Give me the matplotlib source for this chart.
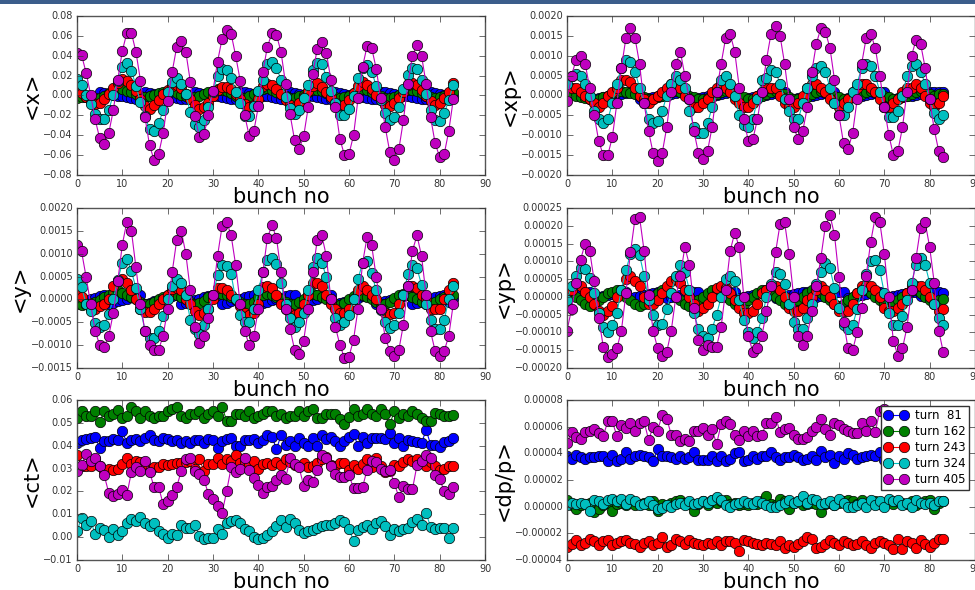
import numpy as np
import matplotlib
matplotlib.use('Agg')
import matplotlib.pyplot as plt
from matplotlib.patches import Rectangle

plt.style.use('classic')
plt.rcParams['font.family'] = ['DejaVu Sans']
plt.rcParams['axes.formatter.limits'] = [-7, 7]
plt.rcParams['axes.formatter.useoffset'] = False

bunch = np.arange(84)
turn_labels = ['turn  81', 'turn 162', 'turn 243', 'turn 324', 'turn 405']
colors = ['b', 'g', 'r', 'c', 'm']

# ---------------- <x> ----------------
x_b = [0.001, 0.000, -0.001, -0.002, -0.003, 0.004, 0.003, 0.002, 0.001, 0.000,
       -0.001, -0.002, -0.003, -0.004, -0.003, 0.004, 0.003, 0.002, 0.001, 0.000,
       -0.001, -0.002, -0.003, -0.004, -0.004, -0.003, 0.004, 0.003, 0.002, 0.001,
       0.000, -0.001, -0.002, -0.003, -0.004, -0.004, 0.004, 0.004, 0.003, 0.002,
       0.001, 0.000, -0.001, -0.002, -0.003, -0.004, -0.004, 0.004, 0.003, 0.002,
       0.001, 0.000, -0.001, -0.002, -0.003, -0.004, -0.004, 0.004, 0.003, 0.002,
       0.001, 0.000, -0.001, -0.002, -0.003, -0.004, -0.004, 0.004, 0.004, 0.003,
       0.002, 0.001, 0.000, -0.001, -0.002, -0.003, -0.004, -0.004, 0.004, 0.003,
       0.002, 0.001, 0.000, -0.001]
x_g = [-0.003, -0.002, -0.002, -0.003, -0.003, -0.003, 0.000, 0.003, 0.006, 0.008,
       0.007, 0.005, 0.004, 0.002, -0.001, -0.002, -0.001, 0.001, 0.003, 0.004,
       0.005, 0.006, 0.003, 0.001, -0.001, -0.002, -0.002, 0.000, 0.002, 0.004,
       0.005, 0.007, 0.006, 0.005, 0.003, 0.000, -0.002, -0.003, -0.001, 0.002,
       0.004, 0.007, 0.008, 0.006, 0.004, 0.002, -0.001, -0.003, -0.003, -0.001,
       0.001, 0.004, 0.006, 0.006, 0.005, 0.003, 0.000, -0.002, -0.003, -0.002,
       0.000, 0.003, 0.006, 0.007, 0.006, 0.004, 0.002, -0.001, -0.003, -0.003,
       -0.002, 0.001, 0.004, 0.006, 0.006, 0.005, 0.003, 0.000, -0.002, -0.003,
       -0.002, 0.000, 0.003, 0.004]
x_r = [0.005, 0.003, -0.002, -0.006, -0.009, -0.008, -0.004, 0.002, 0.008, 0.013,
       0.017, 0.015, 0.011, 0.005, -0.004, -0.011, -0.014, -0.010, -0.005, 0.002,
       0.006, 0.010, 0.011, 0.008, 0.002, -0.004, -0.010, -0.014, -0.012, -0.008,
       0.000, 0.006, 0.009, 0.009, 0.007, 0.002, -0.004, -0.009, -0.012, -0.010,
       -0.004, 0.010, 0.012, 0.011, 0.007, 0.002, -0.005, -0.010, -0.012, -0.008,
       -0.002, 0.005, 0.010, 0.013, 0.009, 0.004, -0.002, -0.008, -0.011, -0.010,
       -0.005, 0.003, 0.010, 0.014, 0.011, 0.007, 0.001, -0.005, -0.010, -0.011,
       -0.008, -0.003, 0.004, 0.011, 0.013, 0.011, 0.006, -0.001, -0.006, -0.010,
       -0.008, -0.003, 0.004, 0.013]
x_c = [0.017, 0.011, 0.001, -0.009, -0.019, -0.024, -0.024, -0.015, 0.001, 0.015,
       0.029, 0.033, 0.025, 0.010, -0.007, -0.021, -0.034, -0.036, -0.028, -0.015,
       0.004, 0.014, 0.018, 0.012, 0.002, -0.017, -0.029, -0.032, -0.025, -0.012,
       0.004, 0.020, 0.027, 0.026, 0.018, 0.004, -0.008, -0.021, -0.021, -0.011,
       0.005, 0.016, 0.032, 0.034, 0.028, 0.016, -0.002, -0.013, -0.019, -0.015,
       -0.003, 0.011, 0.026, 0.033, 0.032, 0.019, 0.005, -0.008, -0.020, -0.020,
       -0.014, 0.000, 0.018, 0.028, 0.031, 0.024, 0.010, -0.005, -0.018, -0.025,
       -0.022, -0.012, 0.007, 0.021, 0.028, 0.027, 0.016, 0.002, -0.015, -0.025,
       -0.026, -0.018, -0.005, 0.011]
x_m = [0.043, 0.041, 0.023, 0.001, -0.024, -0.043, -0.049, -0.038, -0.015, 0.016,
       0.045, 0.063, 0.063, 0.044, 0.015, -0.022, -0.050, -0.065, -0.059, -0.038,
       -0.006, 0.024, 0.049, 0.055, 0.044, 0.014, -0.021, -0.042, -0.039, -0.020,
       0.005, 0.034, 0.057, 0.066, 0.062, 0.040, 0.015, -0.020, -0.041, -0.036,
       -0.011, 0.024, 0.049, 0.063, 0.061, 0.044, 0.012, -0.019, -0.045, -0.054,
       -0.041, -0.012, 0.022, 0.047, 0.054, 0.043, 0.016, -0.012, -0.044, -0.060,
       -0.059, -0.040, -0.003, 0.029, 0.050, 0.048, 0.027, -0.003, -0.032, -0.057,
       -0.065, -0.054, -0.025, 0.012, 0.040, 0.051, 0.040, 0.012, -0.022, -0.048,
       -0.062, -0.059, -0.036, -0.004]

# ---------------- <xp> ----------------
xp_b = [0.00002, 0.00004, 0.00006, 0.00008, 0.0001, -0.0001, -0.00008, -0.00006, -0.00004, -0.00002,
        0.0, 0.00002, 0.00004, 0.00006, 0.00008, 0.0001, -0.0001, -0.00008, -0.00006, -0.00004,
        -0.00002, 0.0, 0.00002, 0.00004, 0.00006, 0.00008, 0.0001, -0.0001, -0.00008, -0.00006,
        -0.00004, -0.00002, 0.0, 0.00002, 0.00004, 0.00006, 0.00008, 0.0001, -0.0001, -0.00008,
        -0.00006, -0.00004, -0.00002, 0.0, 0.00002, 0.00004, 0.00006, 0.00008, 0.0001, -0.0001,
        -0.00008, -0.00006, -0.00004, -0.00002, 0.0, 0.00002, 0.00004, 0.00006, 0.00008, 0.0001,
        -0.0001, -0.00008, -0.00006, -0.00004, -0.00002, 0.0, 0.00002, 0.00004, 0.00006, 0.00008,
        0.0001, -0.0001, -0.00008, -0.00006, -0.00004, -0.00002, 0.0, 0.00002, 0.00004, 0.00006,
        0.00008, 0.0001, 0.00008, 0.0001]
xp_g = [0.0001, 0.00005, 0.0, -0.00003, -0.00007, -0.0001, -0.00013, -0.0001, -0.00005, 0.0,
        0.00005, 0.0001, 0.00012, 0.0001, 0.00007, 0.00003, 0.0, -0.00005, -0.0001, -0.0001,
        -0.00005, 0.0, 0.00005, 0.0001, 0.00012, 0.0001, 0.00005, 0.0, -0.00005, -0.0001,
        -0.0001, -0.00007, -0.00003, 0.00003, 0.00008, 0.00012, 0.0001, 0.00005, 0.0, -0.00005,
        -0.0001, -0.0001, -0.00005, 0.0, 0.00005, 0.0001, 0.00012, 0.00008, 0.00003, -0.00003,
        -0.00008, -0.0001, -0.00008, -0.00003, 0.00003, 0.00008, 0.00012, 0.0001, 0.00005, 0.0,
        -0.00005, -0.0001, -0.0001, -0.00005, 0.0, 0.00005, 0.0001, 0.00012, 0.0001, 0.00005,
        0.0, -0.00005, -0.0001, -0.0001, -0.00005, 0.0, 0.00005, 0.0001, 0.00012, 0.0001,
        0.00005, 0.0, 0.00003, 0.00005]
xp_r = [0.00025, 0.0002, 0.0002, 0.0001, 0.0, -0.0001, -0.0002, -0.0003, -0.0002, 0.0,
        0.0001, 0.0002, 0.0004, 0.0004, 0.00035, 0.0002, 0.0, -0.0001, -0.0002, -0.0001,
        0.0, 0.0001, 0.0002, 0.0003, 0.0003, 0.0002, 0.0, -0.0001, -0.0003, -0.0003,
        -0.0002, -0.0001, 0.0001, 0.0002, 0.0003, 0.0002, 0.0001, -0.0001, -0.0002, -0.0003,
        -0.0003, -0.0002, 0.0, 0.0001, 0.0002, 0.0002, 0.0002, 0.0, -0.0002, -0.0003,
        -0.0003, -0.0002, 0.0, 0.0002, 0.0003, 0.0003, 0.0002, 0.0001, -0.0001, -0.0002,
        -0.0003, -0.0002, -0.0001, 0.0001, 0.0002, 0.0003, 0.0003, 0.0002, 0.0001, -0.0001,
        -0.0003, -0.0003, -0.0002, -0.0001, 0.0001, 0.0002, 0.0002, 0.0003, 0.0002, 0.0,
        -0.0002, -0.0003, -0.0002, 0.0]
xp_c = [0.0003, 0.0005, 0.00055, 0.0005, 0.0003, 0.0, -0.0004, -0.0006, -0.0007, -0.0006,
        -0.0002, 0.0003, 0.0007, 0.0009, 0.00085, 0.0006, 0.0002, -0.0002, -0.0006, -0.0007,
        -0.00065, -0.0004, 0.0, 0.0003, 0.0005, 0.0004, 0.0002, -0.0004, -0.0008, -0.00095,
        -0.00095, -0.0007, -0.0003, 0.0001, 0.0004, 0.0005, 0.0003, 0.0, -0.0005, -0.00075,
        -0.0008, -0.0006, -0.0001, 0.0004, 0.00045, 0.00065, 0.0006, 0.0003, -0.0001, -0.0004,
        -0.0006, -0.0006, -0.0002, 0.0002, 0.0005, 0.0007, 0.00075, 0.0006, 0.0002, -0.0002,
        -0.0005, -0.0005, -0.0003, 0.0001, 0.0003, 0.0007, 0.0008, 0.00075, 0.0005, 0.0001,
        -0.0003, -0.00055, -0.00055, -0.0004, 0.0, 0.0005, 0.00075, 0.0008, 0.0006, 0.0003,
        -0.0001, -0.00045, -0.0006, -0.0005]
xp_m = [-0.00015, 0.0005, 0.0009, 0.0010, 0.0008, 0.0002, -0.0005, -0.00115, -0.0015, -0.0015,
        -0.00105, -0.0002, 0.0007, 0.00145, 0.0017, 0.00145, 0.0008, -0.0002, -0.0009, -0.00145,
        -0.00165, -0.00145, -0.0008, 0.0001, 0.0008, 0.0011, 0.0005, -0.0001, -0.0009, -0.00145,
        -0.0016, -0.0014, -0.0008, 0.0001, 0.0008, 0.00145, 0.00155, 0.0011, 0.0002, -0.0006,
        -0.00115, -0.0011, -0.0006, 0.0001, 0.0009, 0.00155, 0.00175, 0.0015, 0.0008, -0.0001,
        -0.0008, -0.0011, -0.0009, -0.0003, 0.0006, 0.0013, 0.0017, 0.0016, 0.0012, 0.0004,
        -0.0005, -0.0012, -0.00135, -0.00095, -0.0001, 0.0008, 0.00145, 0.00155, 0.0012, 0.0005,
        -0.0003, -0.0010, -0.0015, -0.0014, -0.0008, 0.0001, 0.0010, 0.0014, 0.0013, 0.0007,
        -0.0001, -0.00085, -0.0014, -0.00155]

# ---------------- <y> ----------------
y_b = [-0.00008, -0.00005, -0.00002, 0.00001, 0.00004, 0.00007, 0.0001, -0.0001, -0.00007, -0.00004,
       -0.00001, 0.00002, 0.00005, 0.00008, 0.0001, -0.0001, -0.00007, -0.00004, -0.00001, 0.00002,
       0.00005, 0.00008, 0.0001, -0.0001, -0.00007, -0.00004, -0.00001, 0.00002, 0.00005, 0.00008,
       0.0001, 0.0001, -0.0001, -0.00007, -0.00004, -0.00001, 0.00002, 0.00005, 0.00008, 0.0001,
       -0.0001, -0.00008, -0.00005, -0.00002, 0.00001, 0.00004, 0.00007, 0.0001, 0.0001, -0.0001,
       -0.00007, -0.00004, -0.00001, 0.00002, 0.00005, 0.00008, 0.0001, -0.0001, -0.00008, -0.00005,
       -0.00002, 0.00001, 0.00004, 0.00007, 0.0001, 0.0001, -0.0001, -0.00007, -0.00004, -0.00001,
       0.00002, 0.00005, 0.00008, 0.0001, -0.0001, -0.00007, -0.00004, -0.00001, 0.00002, 0.00005,
       0.00008, 0.0001, -0.00005, 0.0]
y_g = [-0.0001, -0.00012, -0.0001, -0.00008, -0.00005, -0.00002, 0.00005, 0.0001, 0.00015, 0.0002,
       0.00015, 0.0001, 0.00005, 0.0, -0.00005, -0.0001, -0.0001, -0.00005, 0.0, 0.00005,
       0.0001, 0.00012, 0.0001, 0.00005, 0.0, -0.00005, -0.0001, -0.00008, -0.00003, 0.00005,
       0.0001, 0.00015, 0.00012, 0.0001, 0.00005, 0.0, -0.00005, -0.0001, -0.0001, -0.00005,
       0.00005, 0.0001, 0.00012, 0.0001, 0.00005, 0.0, -0.00005, -0.0001, -0.0001, -0.00005,
       0.0, 0.0001, 0.00012, 0.0001, 0.00005, 0.0, -0.00005, -0.0001, -0.00012, -0.00008,
       0.0, 0.00008, 0.00012, 0.0001, 0.00005, 0.0, -0.00005, -0.0001, -0.0001, -0.00005,
       0.00003, 0.0001, 0.00012, 0.0001, 0.00005, 0.0, -0.00005, -0.0001, -0.0001, -0.00005,
       0.0, 0.00005, 0.0001, 0.0001]
y_r = [0.00012, 0.00005, -0.0001, -0.0002, -0.00022, -0.00015, -0.0001, 0.0, 0.0003, 0.0004,
       0.00045, 0.00035, 0.0002, 0.0, -0.0002, -0.00028, -0.00028, -0.0002, -0.0001, 0.0,
       0.0001, 0.00022, 0.00025, 0.0002, 0.0, -0.0001, -0.00025, -0.00035, -0.0003, -0.0002,
       0.0, 0.00025, 0.00025, 0.0002, 0.0001, 0.0, -0.00015, -0.0003, -0.00035, -0.0003,
       -0.0001, 0.00028, 0.0003, 0.00025, 0.0001, -0.0001, -0.0002, -0.0003, -0.00035, -0.0003,
       -0.0001, 0.0001, 0.00035, 0.00035, 0.0003, 0.0001, -0.0001, -0.0002, -0.0003, -0.0003,
       -0.0002, 0.0, 0.0002, 0.0003, 0.0002, 0.0001, 0.0, -0.0002, -0.0003, -0.00032,
       -0.0003, -0.0001, 0.0001, 0.0003, 0.0003, 0.00025, 0.0001, 0.0, -0.0002, -0.00022,
       -0.0002, 0.0, 0.0002, 0.00035]
y_c = [0.00045, 0.00028, -0.0001, -0.00025, -0.00052, -0.0006, -0.00055, -0.00032, 0.0, 0.00043,
       0.0008, 0.00088, 0.00062, 0.00025, -0.0002, -0.00068, -0.00085, -0.00085, -0.00068, -0.00037,
       0.0, 0.0003, 0.00045, 0.00035, 0.0001, -0.00045, -0.00065, -0.00075, -0.00055, -0.0002,
       0.0001, 0.00053, 0.00075, 0.00073, 0.00055, 0.0, -0.00035, -0.0005, -0.0005, -0.0002,
       0.0002, 0.0006, 0.00087, 0.0009, 0.00077, 0.00035, -0.0001, -0.0004, -0.0006, -0.0005,
       -0.0003, 0.0002, 0.0007, 0.0009, 0.0008, 0.0005, 0.0, -0.0004, -0.00055, -0.0005,
       -0.00035, 0.0, 0.00045, 0.0008, 0.00083, 0.00057, 0.0002, -0.00023, -0.0005, -0.00062,
       -0.00055, -0.0003, 0.0001, 0.00055, 0.00075, 0.00068, 0.00032, -0.0001, -0.00045, -0.00065,
       -0.00065, -0.00045, 0.0, 0.0003]
y_m = [0.0012, 0.00105, 0.0005, -0.0001, -0.00068, -0.0010, -0.00103, -0.0008, -0.0003, 0.0004,
       0.0012, 0.0017, 0.0015, 0.0007, -0.0001, -0.0007, -0.0010, -0.0011, -0.0011, -0.0008,
       -0.0002, 0.0006, 0.0013, 0.0015, 0.0010, 0.0002, -0.0006, -0.00095, -0.0008, -0.0004,
       0.0001, 0.00095, 0.0016, 0.0017, 0.0014, 0.00075, -0.0001, -0.0007, -0.0010, -0.0008,
       -0.0002, 0.0006, 0.00135, 0.00162, 0.00135, 0.0006, -0.0002, -0.00065, -0.0011, -0.0012,
       -0.0009, -0.00022, 0.0006, 0.0013, 0.0014, 0.00095, 0.0, -0.0006, -0.0010, -0.00128,
       -0.00125, -0.00088, -0.0002, 0.0008, 0.00137, 0.00118, 0.0005, -0.0002, -0.00085, -0.00112,
       -0.00123, -0.0011, -0.00055, 0.0003, 0.00107, 0.0014, 0.00095, 0.0001, -0.0007, -0.00113,
       -0.00123, -0.00113, -0.0008, -0.0001]

# ---------------- <yp> ----------------
yp_b = [0.0, 0.000003, 0.000006, 0.000009, 0.000012, 0.000014, -0.000004, -0.000001, 0.000002, 0.000005,
        0.000008, 0.000011, 0.000014, 0.000015, -0.000003, 0.0, 0.000003, 0.000006, 0.000009, 0.000012,
        0.000014, 0.000015, -0.000003, 0.0, 0.000003, 0.000006, 0.000009, 0.000012, 0.000014, 0.000015,
        -0.000003, 0.0, 0.000003, 0.000006, 0.000009, 0.000012, 0.000014, 0.000015, -0.000003, 0.0,
        0.000003, 0.000006, 0.000009, 0.000012, 0.000014, 0.000015, -0.000003, 0.0, 0.000003, 0.000006,
        0.000009, 0.000012, 0.000014, 0.000015, -0.000003, 0.0, 0.000003, 0.000006, 0.000009, 0.000012,
        0.000014, 0.000015, -0.000003, 0.0, 0.000003, 0.000006, 0.000009, 0.000012, 0.000014, 0.000015,
        -0.000003, 0.0, 0.000003, 0.000006, 0.000009, 0.000012, 0.000014, 0.000015, 0.000003, 0.000006,
        0.000009, 0.000012, 0.000013, 0.000012]
yp_g = [0.00001, 0.000005, 0.0, -0.00001, -0.00002, -0.000025, -0.00002, -0.00001, 0.0, 0.00001,
        0.000015, 0.00002, 0.00001, 0.0, -0.00001, -0.00002, -0.000025, -0.00002, -0.00001, 0.0,
        0.00001, 0.00002, 0.00002, 0.00001, 0.0, -0.00001, -0.00002, -0.000025, -0.00002, -0.00001,
        0.0, 0.00001, 0.00002, 0.00002, 0.00001, 0.0, -0.00001, -0.00002, -0.000025, -0.00002,
        -0.00001, 0.0, 0.00001, 0.00002, 0.00002, 0.00001, 0.0, -0.00001, -0.00002, -0.000025,
        -0.00002, -0.00001, 0.0, 0.00001, 0.00002, 0.00002, 0.00001, 0.0, -0.00001, -0.00002,
        -0.000025, -0.00002, -0.00001, 0.0, 0.00001, 0.00002, 0.00002, 0.00001, 0.0, -0.00001,
        -0.00002, -0.000025, -0.00002, -0.00001, 0.0, 0.00001, 0.00002, 0.00002, 0.00001, 0.0,
        -0.00001, -0.00002, -0.00001, -0.000005]
yp_r = [0.000015, 0.00002, 0.000035, 0.00003, 0.000015, 0.0, -0.00002, -0.00004, -0.00005, -0.00004,
        -0.000025, 0.0, 0.00002, 0.00005, 0.00006, 0.000045, 0.00003, 0.0, -0.00002, -0.00002,
        -0.00001, 0.00001, 0.00003, 0.000045, 0.00005, 0.00004, 0.00002, 0.0, -0.00002, -0.00004,
        -0.00003, -0.00002, 0.0, 0.000025, 0.00003, 0.000025, 0.00001, -0.00001, -0.00003, -0.000045,
        -0.000045, -0.00004, -0.00002, 0.00001, 0.00002, 0.00003, 0.00003, 0.00002, 0.0, -0.00003,
        -0.00004, -0.00004, -0.00003, -0.00001, 0.0, 0.00002, 0.00003, 0.00002, 0.0, -0.00002,
        -0.00004, -0.00004, -0.00004, -0.00002, 0.00001, 0.00003, 0.00003, 0.00003, 0.00002, 0.0,
        -0.00003, -0.00004, -0.00004, -0.00003, -0.00002, 0.00001, 0.00003, 0.00003, 0.00003, 0.00002,
        0.0, -0.00002, -0.00004, -0.000035]
yp_c = [-0.00001, 0.00003, 0.00006, 0.00008, 0.000078, 0.000053, 0.00001, -0.000045, -0.000085, -0.0001,
        -0.00008, -0.000045, 0.00002, 0.000075, 0.00012, 0.000135, 0.000118, 0.00006, -0.00001, -0.00005,
        -0.00008, -0.000075, -0.000035, 0.00001, 0.00006, 0.00009, 0.00007, 0.00002, -0.000045, -0.00009,
        -0.00011, -0.000115, -0.00009, -0.00005, 0.0, 0.00005, 0.00006, 0.000045, -0.00001, -0.000065,
        -0.0001, -0.000115, -0.0001, -0.00006, 0.0, 0.000035, 0.00007, 0.000065, 0.000035, -0.00002,
        -0.00007, -0.00009, -0.00009, -0.00006, -0.00002, 0.000035, 0.00007, 0.000095, 0.00008, 0.000025,
        -0.00003, -0.00008, -0.00009, -0.00008, -0.000035, 0.00002, 0.000065, 0.0001, 0.000105, 0.000075,
        0.00001, -0.000045, -0.00008, -0.00008, -0.000055, -0.00001, 0.00004, 0.00009, 0.00011, 0.00009,
        0.00004, -0.00002, -0.00006, -0.00008]
yp_m = [-0.000095, -0.000035, 0.00004, 0.000105, 0.00015, 0.00013, 0.000045, -0.00006, -0.00014, -0.00017,
        -0.00016, -0.000145, -0.000095, 0.00001, 0.000125, 0.00022, 0.000225, 0.00013, 0.000005, -0.000095,
        -0.000145, -0.000165, -0.000155, -0.000095, 0.0, 0.00006, 0.00014, 0.00009, -0.00003, -0.00012,
        -0.00015, -0.000135, -0.00014, -0.00014, -0.000085, 0.00002, 0.00013, 0.00018, 0.00014, 0.0,
        -0.00011, -0.000155, -0.000145, -0.00011, -0.00004, 0.00003, 0.000125, 0.000205, 0.00021, 0.00012,
        0.0, -0.00011, -0.000135, -0.00011, -0.00004, 0.00003, 0.00011, 0.0002, 0.00023, 0.000175,
        0.000055, -0.00007, -0.000145, -0.00015, -0.0001, -0.00003, 0.00006, 0.000155, 0.000225, 0.00021,
        0.00012, 0.0, -0.000125, -0.000165, -0.000145, -0.000085, 0.00002, 0.00011, 0.000195, 0.00021,
        0.00014, 0.00004, -0.000095, -0.000155]

# ---------------- <ct> ----------------
ct_b = [0.041, 0.0425, 0.043, 0.0435, 0.044, 0.039, 0.042, 0.042, 0.043, 0.0425,
        0.0465, 0.041, 0.0425, 0.043, 0.042, 0.0435, 0.0445, 0.0425, 0.042, 0.0435,
        0.043, 0.042, 0.0425, 0.041, 0.042, 0.041, 0.0425, 0.0425, 0.041, 0.043,
        0.0425, 0.039, 0.042, 0.043, 0.0435, 0.040, 0.040, 0.0425, 0.0425, 0.043,
        0.041, 0.0425, 0.0445, 0.044, 0.0385, 0.0445, 0.0405, 0.042, 0.040, 0.0435,
        0.041, 0.040, 0.0435, 0.040, 0.0445, 0.043, 0.044, 0.042, 0.040, 0.042,
        0.044, 0.045, 0.040, 0.044, 0.041, 0.0435, 0.0435, 0.0435, 0.043, 0.0455,
        0.041, 0.0435, 0.040, 0.0425, 0.042, 0.0415, 0.041, 0.047, 0.0405, 0.0405,
        0.0395, 0.0415, 0.042, 0.0435]
ct_g = [0.052, 0.055, 0.053, 0.053, 0.055, 0.0505, 0.055, 0.053, 0.054, 0.0555,
        0.052, 0.053, 0.057, 0.055, 0.052, 0.055, 0.053, 0.052, 0.053, 0.053,
        0.055, 0.056, 0.057, 0.053, 0.052, 0.054, 0.054, 0.055, 0.052, 0.054,
        0.055, 0.053, 0.057, 0.051, 0.051, 0.054, 0.054, 0.053, 0.055, 0.052,
        0.053, 0.054, 0.055, 0.055, 0.053, 0.054, 0.052, 0.053, 0.053, 0.055,
        0.053, 0.055, 0.056, 0.052, 0.052, 0.054, 0.054, 0.054, 0.0515, 0.0495,
        0.0525, 0.056, 0.053, 0.054, 0.056, 0.054, 0.053, 0.056, 0.054, 0.0495,
        0.055, 0.052, 0.054, 0.053, 0.055, 0.054, 0.052, 0.051, 0.051, 0.0545,
        0.054, 0.053, 0.053, 0.0535]
ct_r = [0.036, 0.031, 0.031, 0.031, 0.034, 0.031, 0.029, 0.030, 0.0295, 0.030,
        0.032, 0.0345, 0.032, 0.0335, 0.033, 0.031, 0.029, 0.0305, 0.0305, 0.032,
        0.0315, 0.032, 0.0325, 0.0325, 0.033, 0.0335, 0.030, 0.034, 0.029, 0.032,
        0.032, 0.0345, 0.032, 0.034, 0.0335, 0.036, 0.0325, 0.033, 0.0315, 0.0335,
        0.030, 0.032, 0.0325, 0.0315, 0.033, 0.0315, 0.034, 0.033, 0.0315, 0.031,
        0.0325, 0.0305, 0.031, 0.0325, 0.034, 0.035, 0.0315, 0.031, 0.0325, 0.0325,
        0.0295, 0.0315, 0.030, 0.032, 0.034, 0.0305, 0.0345, 0.031, 0.0285, 0.029,
        0.0315, 0.031, 0.033, 0.034, 0.0335, 0.034, 0.0325, 0.031, 0.033, 0.031,
        0.0295, 0.030, 0.031, 0.031]
ct_c = [0.0025, 0.0085, 0.0055, 0.007, 0.0015, 0.004, 0.003, 0.000, 0.0035, 0.001,
        0.0025, 0.006, 0.008, 0.007, 0.009, 0.006, 0.005, 0.006, 0.0025, 0.0015,
        -0.0005, 0.0015, 0.001, 0.0055, 0.004, 0.004, 0.0055, 0.0005, -0.001, -0.0005,
        -0.0005, 0.0035, 0.0015, 0.006, 0.007, 0.0075, 0.006, 0.0035, 0.0025, 0.000,
        -0.001, -0.0005, 0.001, 0.0025, 0.005, 0.0075, 0.0045, 0.008, 0.006, 0.003,
        0.002, 0.0025, 0.003, 0.004, 0.005, 0.0055, 0.0055, 0.006, 0.0075, 0.0065,
        0.0035, -0.0015, 0.003, 0.0045, 0.0055, 0.0035, 0.006, 0.007, 0.005, 0.001,
        0.0035, 0.0025, 0.0035, 0.004, 0.0065, 0.008, 0.0055, 0.0105, 0.0045, 0.0035,
        0.004, 0.004, -0.0005, 0.004]
ct_m = [0.029, 0.0315, 0.0365, 0.0335, 0.0345, 0.031, 0.027, 0.0195, 0.018, 0.019,
        0.0205, 0.0185, 0.0285, 0.0305, 0.029, 0.0335, 0.0285, 0.022, 0.022, 0.0145,
        0.016, 0.0185, 0.022, 0.029, 0.034, 0.0345, 0.029, 0.0275, 0.025, 0.019,
        0.0165, 0.0135, 0.0105, 0.020, 0.0305, 0.0285, 0.030, 0.0345, 0.0295, 0.026,
        0.023, 0.0195, 0.022, 0.0225, 0.025, 0.027, 0.0255, 0.0345, 0.032, 0.0305,
        0.0225, 0.025, 0.024, 0.0295, 0.036, 0.0345, 0.031, 0.0275, 0.0265, 0.0265,
        0.027, 0.0215, 0.0215, 0.022, 0.0295, 0.0335, 0.033, 0.030, 0.029, 0.0295,
        0.0235, 0.0175, 0.0225, 0.021, 0.021, 0.0315, 0.0335, 0.036, 0.0345, 0.027,
        0.0255, 0.020, 0.019, 0.022]

# ---------------- <dp/p> ----------------
dp_b = [0.000038, 0.000036, 0.000039, 0.000037, 0.000036, 0.000037, 0.000037, 0.000038, 0.000038, 0.000034,
        0.000039, 0.000034, 0.000036, 0.000041, 0.000036, 0.000038, 0.000039, 0.000038, 0.000037, 0.000034,
        0.000043, 0.000038, 0.000038, 0.000037, 0.000036, 0.000038, 0.000036, 0.000037, 0.000041, 0.000035,
        0.000035, 0.000035, 0.000038, 0.000034, 0.000038, 0.000034, 0.000036, 0.00004, 0.000041, 0.000034,
        0.000035, 0.000038, 0.000036, 0.000038, 0.000038, 0.000041, 0.000037, 0.000035, 0.000037, 0.000037,
        0.000039, 0.000037, 0.000035, 0.000036, 0.000038, 0.000035, 0.000042, 0.000037, 0.000039, 0.000033,
        0.000038, 0.000036, 0.00004, 0.000039, 0.000036, 0.000037, 0.000038, 0.000039, 0.000038, 0.000041,
        0.000035, 0.000039, 0.000037, 0.000038, 0.000036, 0.000039, 0.000037, 0.000038, 0.000036, 0.000037,
        0.000039, 0.000036, 0.000038, 0.000037]
dp_g = [0.000005, 0.000001, -0.000002, 0.000001, 0.000002, 0.000003, -0.000004, -0.000002, 0.000001, 0.000003,
        -0.000003, 0.000002, 0.000003, 0.000001, 0.000004, 0.000001, 0.000002, 0.000003, 0.000001, 0.000004,
        -0.000003, 0.000002, 0.000001, 0.000003, 0.000004, 0.000005, 0.000003, 0.000002, -0.000003, 0.000002,
        0.000004, 0.000001, 0.000005, 0.000003, 0.000004, 0.000005, 0.000002, 0.000003, 0.000001, 0.000002,
        0.000001, 0.000003, 0.000002, 0.000004, 0.000008, 0.000002, 0.000001, 0.000006, 0.000004, -0.000002,
        0.000003, 0.000004, 0.000001, 0.000002, 0.000003, 0.000002, -0.000004, 0.000002, 0.000003, 0.000001,
        0.000003, 0.000004, 0.000005, 0.000004, 0.000002, 0.000005, 0.000001, 0.000003, 0.000004, 0.000002,
        0.000003, 0.000005, 0.000002, 0.000004, 0.000003, 0.000002, 0.000004, 0.000001, 0.000003, 0.000004,
        0.000005, -0.000002, 0.000003, 0.000004]
dp_r = [-0.00003, -0.000028, -0.000025, -0.000029, -0.000027, -0.000024, -0.000026, -0.000029, -0.000026, -0.000025,
        -0.000029, -0.000027, -0.000026, -0.000025, -0.000027, -0.000028, -0.00003, -0.000027, -0.000026, -0.000029,
        -0.000027, -0.000023, -0.00003, -0.000029, -0.000024, -0.000026, -0.000028, -0.000025, -0.000027, -0.000028,
        -0.000029, -0.000027, -0.000028, -0.000026, -0.000029, -0.000026, -0.000026, -0.000027, -0.000033, -0.000025,
        -0.000026, -0.000027, -0.000028, -0.000029, -0.000027, -0.000028, -0.000029, -0.000026, -0.000031, -0.000029,
        -0.00003, -0.000028, -0.000026, -0.000023, -0.000024, -0.000031, -0.00003, -0.000028, -0.000025, -0.000027,
        -0.000029, -0.000026, -0.000027, -0.000029, -0.000028, -0.000026, -0.000029, -0.000031, -0.000027, -0.000026,
        -0.000027, -0.000029, -0.000032, -0.000024, -0.000032, -0.000026, -0.000027, -0.000031, -0.000025, -0.000028,
        -0.00003, -0.000027, -0.000024, -0.000024]
dp_c = [0.000001, 0.000003, 0.000002, 0.000003, 0.000002, -0.000003, 0.000005, 0.000004, 0.000002, 0.000005,
        0.000006, 0.000004, 0.000006, 0.000002, 0.000006, 0.000004, 0.000001, 0.000002, 0.000004, 0.000001,
        -0.000002, -0.000001, 0.000001, 0.0, 0.000002, 0.000003, 0.000001, 0.000004, 0.000002, 0.000003,
        0.000004, 0.000003, 0.000005, 0.000007, 0.000005, 0.000001, 0.0, 0.000002, 0.000003, 0.000004,
        0.000003, 0.000002, 0.000004, 0.000003, 0.000001, 0.0, 0.0, 0.000001, 0.000003, 0.000005,
        0.000003, 0.000004, 0.000008, 0.000003, 0.000006, 0.000005, 0.000002, 0.000003, 0.000004, 0.000001,
        0.000006, 0.000003, 0.0, 0.0, 0.000001, 0.000003, 0.0, 0.000005, 0.000001, 0.000004,
        0.0, 0.000006, 0.000004, 0.000005, 0.000001, 0.000003, 0.0, 0.000005, 0.000003, 0.000002,
        0.000003, 0.000001, 0.000004, 0.000004]
dp_m = [0.000048, 0.000056, 0.000052, 0.000051, 0.000056, 0.000057, 0.000058, 0.000055, 0.000053, 0.000064,
        0.000064, 0.000053, 0.000061, 0.000059, 0.000063, 0.000057, 0.000063, 0.000064, 0.00005, 0.00006,
        0.000057, 0.000069, 0.000066, 0.000054, 0.000054, 0.000049, 0.000051, 0.000049, 0.000057, 0.000057,
        0.000059, 0.000054, 0.000058, 0.000047, 0.000062, 0.000064, 0.000062, 0.000054, 0.00005, 0.000057,
        0.000053, 0.000057, 0.000053, 0.000054, 0.000063, 0.000063, 0.000067, 0.000056, 0.000058, 0.000059,
        0.000054, 0.000051, 0.000051, 0.000052, 0.000057, 0.00006, 0.000066, 0.000058, 0.000054, 0.000063,
        0.000061, 0.000058, 0.000057, 0.000055, 0.000055, 0.000063, 0.000057, 0.000064, 0.000056, 0.000072,
        0.000073, 0.00006, 0.000058, 0.000062, 0.00006, 0.000057, 0.000063, 0.000059, 0.000061, 0.000056,
        0.000062, 0.00006, 0.000057, 0.000061]

panels = [
    ('<x>', [x_b, x_g, x_r, x_c, x_m], (-0.08, 0.08), 0.02),
    ('<xp>', [xp_b, xp_g, xp_r, xp_c, xp_m], (-0.002, 0.002), 0.0005),
    ('<y>', [y_b, y_g, y_r, y_c, y_m], (-0.0015, 0.002), 0.0005),
    ('<yp>', [yp_b, yp_g, yp_r, yp_c, yp_m], (-0.0002, 0.00025), 0.00005),
    ('<ct>', [ct_b, ct_g, ct_r, ct_c, ct_m], (-0.01, 0.06), 0.01),
    ('<dp/p>', [dp_b, dp_g, dp_r, dp_c, dp_m], (-0.00004, 0.00008), 0.00002),
]

W, H = 975.0, 590.0
fig = plt.figure(figsize=(9.75, 5.9), dpi=100)
fig.patch.set_facecolor('white')
fig.patches.append(Rectangle((0, 1 - 4 / H), 1, 4 / H, transform=fig.transFigure,
                             facecolor='#3b5d8b', edgecolor='none', zorder=10))

cols = [(77, 485), (567, 975)]
rows = [(16, 175), (208, 368), (400, 560)]

for i, (ylab, series, ylim, step) in enumerate(panels):
    r, c = divmod(i, 2)
    l, rr = cols[c]
    t, b = rows[r]
    ax = fig.add_axes([l / W, 1 - b / H, (rr - l) / W, (b - t) / H])
    for vals, col, lab in zip(series, colors, turn_labels):
        ax.plot(bunch, vals, '-o', color=col, mec='k', mew=0.5, ms=7.5, lw=0.8, label=lab)
    ax.set_xlim(0, 90)
    ax.set_ylim(*ylim)
    ax.set_xticks(np.arange(0, 91, 10))
    ax.set_yticks(np.arange(ylim[0], ylim[1] + step / 2, step))
    ax.tick_params(labelsize=7, colors='#333333', direction='in', length=4, pad=3)
    for sp in ax.spines.values():
        sp.set_color('#555555')
    ax.set_xlabel('bunch no', fontsize=15, labelpad=-1.5)
    ax.set_ylabel(ylab, fontsize=15, labelpad=1)
    if i == 5:
        leg = ax.legend(loc='upper right', fontsize=8.5, numpoints=2, borderaxespad=0.5,
                        handlelength=2.0, handletextpad=0.6, labelspacing=0.25,
                        borderpad=0.3, frameon=True, fancybox=False)
        leg.get_frame().set_edgecolor('#333333')

fig.savefig('out.png', dpi=100, facecolor='white')
